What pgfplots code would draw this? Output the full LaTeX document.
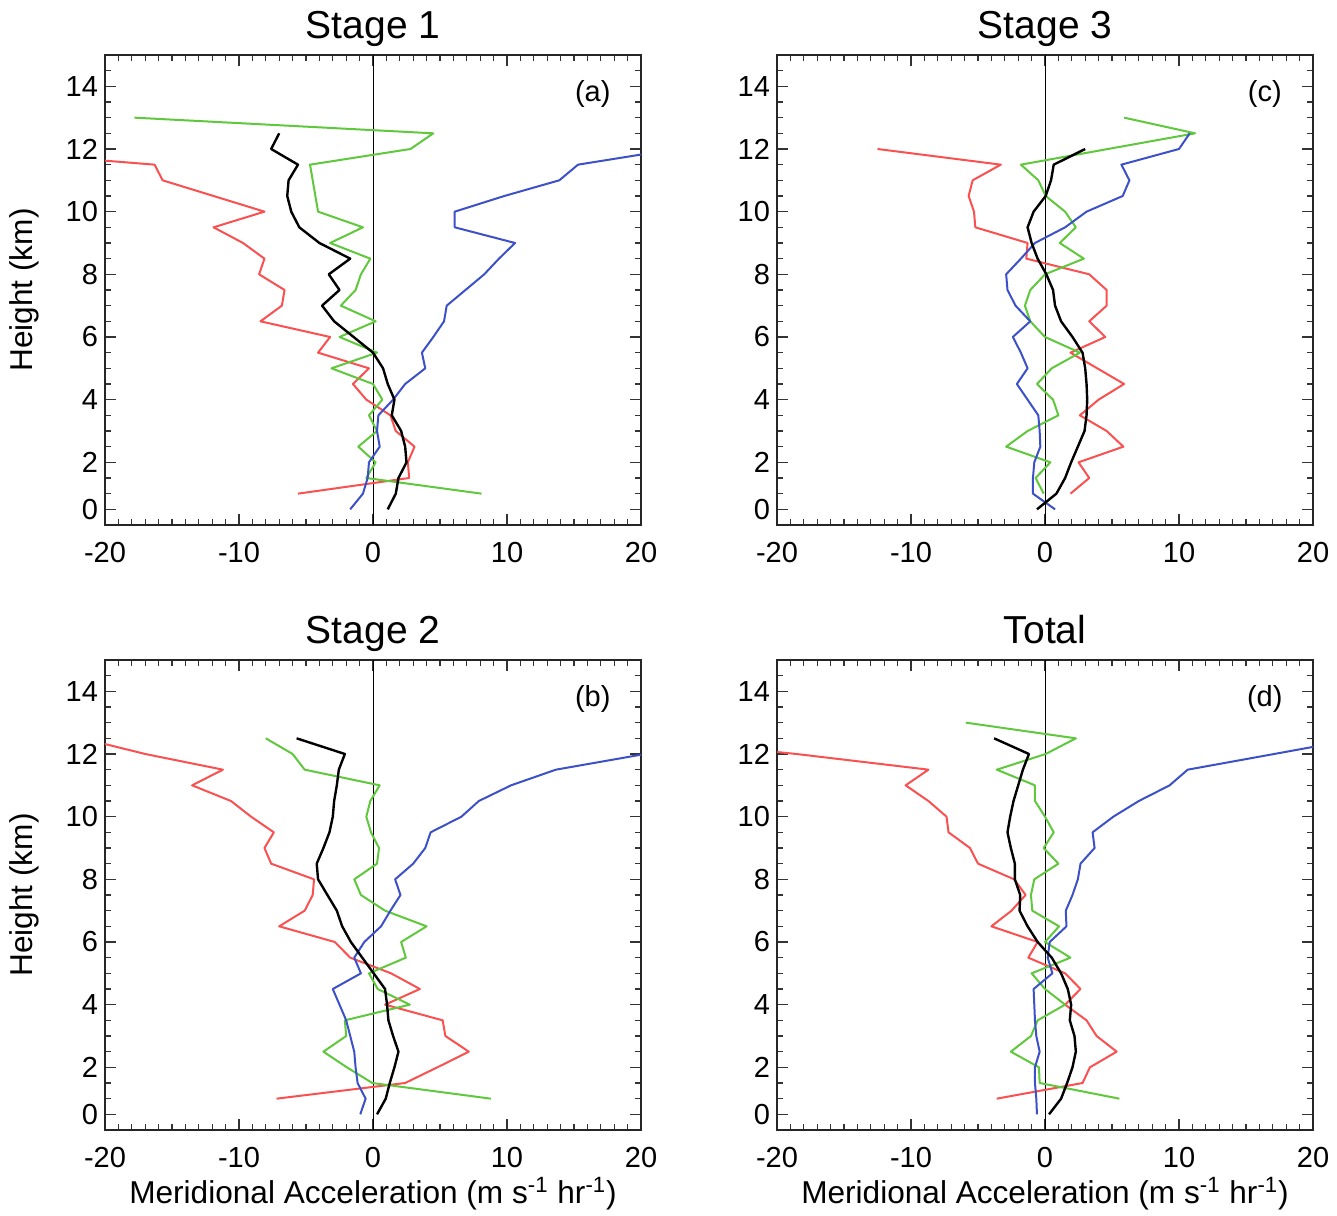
\documentclass[border=0pt]{standalone}
\usepackage{fontspec}
\setmainfont{Liberation Sans}
\usepackage{pgfplots}
\pgfplotsset{compat=1.18}

\definecolor{cred}{RGB}{250,80,80}
\definecolor{cgreen}{RGB}{95,200,60}
\definecolor{cblue}{RGB}{60,80,200}

\pgfplotsset{
  panel/.style={
    scale only axis, width=268pt, height=235pt, anchor=south west,
    xmin=-20, xmax=20, ymin=0, ymax=15,
    clip mode=individual,
    axis line style={line width=0.7pt, black!85},
    every tick/.style={black!80, line width=0.6pt},
    tick align=inside, major tick length=5.5pt, minor tick length=2.8pt,
    xtick={-20,-10,0,10,20}, xticklabels={-20,-10,0,10,20},
    minor xtick={-19,...,19},
    ytick={0.5,2,4,6,8,10,12,14}, yticklabels={\raisebox{-2pt}{0},2,4,6,8,10,12,14},
    minor ytick={0.5,1,...,14.5},
    tick label style={font=\fontsize{14.5}{17}\selectfont},
    xticklabel style={yshift=-5pt},
    label style={font=\fontsize{15.8}{18}\selectfont},
    title style={font=\fontsize{19.5}{22}\selectfont, at={(0.5,1)}, anchor=base, yshift=2pt},
    xlabel style={at={(axis description cs:0.5,-0.135)}, anchor=center},
    ylabel style={at={(axis description cs:-0.151,0.5)}, anchor=center},
  },
  prof/.style={line width=1pt, line join=round},
}

\newcommand{\zeroline}{\addplot[black, line width=0.5pt] coordinates {(0,0) (0,15)};}
\newcommand{\tag}[1]{\node[font=\fontsize{14.5}{17}\selectfont] at (rel axis cs:0.91,0.917) {#1};}

\begin{document}
\begin{tikzpicture}

% ---------------- Stage 1 ----------------
\begin{axis}[panel, at={(52.5pt,345pt)}, title={Stage 1}, ylabel={Height (km)}]
\zeroline
\addplot[prof, cred] coordinates {
(-30.8,12.0) (-16.3,11.5) (-15.7,11.0) (-8.1,10.0) (-11.9,9.5) (-9.7,9.0) (-8.1,8.5)
(-8.5,8.0) (-6.6,7.5) (-6.8,7.0) (-8.4,6.5) (-3.2,6.0) (-4.1,5.5) (-0.3,5.0)
(-1.5,4.5) (-0.5,4.0) (1.3,3.5) (1.7,3.0) (3.1,2.5) (2.6,2.0) (2.7,1.5) (-5.6,1.0)};
\addplot[prof, cgreen] coordinates {
(-17.8,13.0) (4.5,12.5) (2.8,12.0) (-4.7,11.5) (-4.1,10.0) (-0.75,9.5) (-3.2,9.0)
(-0.2,8.5) (-0.9,8.0) (-1.3,7.5) (-2.4,7.0) (0.2,6.5) (-2.5,6.0) (0.3,5.5) (-3.1,5.0)
(0.0,4.5) (0.7,4.0) (-0.3,3.5) (0.3,3.0) (-1.1,2.5) (0.2,2.0) (-0.5,1.5) (8.1,1.0)};
\addplot[prof, cblue] coordinates {
(22.6,12.0) (15.3,11.5) (13.9,11.0) (9.8,10.5) (6.1,10.0) (6.1,9.5) (10.6,9.0)
(9.4,8.5) (8.3,8.0) (6.9,7.5) (5.5,7.0) (5.3,6.5) (4.5,6.0) (3.65,5.5) (3.9,5.0)
(2.4,4.5) (1.5,4.0) (0.4,3.5) (0.3,3.0) (0.5,2.5) (-0.3,2.0) (-0.4,1.5) (-0.75,1.0) (-1.7,0.5)};
\addplot[prof, black, line width=1.2pt] coordinates {
(-7.0,12.5) (-7.6,12.0) (-5.6,11.5) (-6.3,11.0) (-6.4,10.5) (-6.1,10.0) (-5.5,9.5)
(-4.0,9.0) (-1.7,8.5) (-3.3,8.0) (-2.5,7.5) (-3.8,7.0) (-2.9,6.5) (-1.45,6.0) (0.0,5.5)
(0.75,5.0) (1.1,4.5) (1.6,4.0) (1.4,3.5) (2.1,3.0) (2.4,2.5) (2.5,2.0) (1.9,1.5) (1.7,1.0) (1.1,0.5)};
\tag{(a)}
\end{axis}

% ---------------- Stage 3 ----------------
\begin{axis}[panel, at={(388.5pt,345pt)}, title={Stage 3}]
\zeroline
\addplot[prof, cred] coordinates {
(-12.5,12.0) (-3.3,11.5) (-5.4,11.0) (-5.7,10.5) (-5.3,10.0) (-5.2,9.5) (-1.3,9.0)
(-1.4,8.5) (3.3,8.0) (4.6,7.5) (4.6,7.0) (3.3,6.5) (4.5,6.0) (1.9,5.5) (3.9,5.0)
(5.9,4.5) (4.0,4.0) (2.6,3.5) (4.6,3.0) (5.85,2.5) (2.5,2.0) (3.3,1.5) (1.9,1.0)};
\addplot[prof, cgreen] coordinates {
(5.9,13.0) (11.2,12.5) (-1.8,11.5) (-0.5,11.0) (0.05,10.5) (1.5,10.0) (2.3,9.5)
(1.1,9.0) (2.9,8.5) (0.0,8.0) (-1.1,7.5) (-1.5,7.0) (-1.1,6.5) (0.0,6.0) (2.6,5.5)
(0.5,5.0) (-0.6,4.5) (0.6,4.0) (1.0,3.5) (-1.3,3.0) (-2.9,2.5) (0.4,2.0) (-0.7,1.5) (-0.1,1.0)};
\addplot[prof, cblue] coordinates {
(10.8,12.5) (10.0,12.0) (5.7,11.5) (6.3,11.0) (5.8,10.5) (3.1,10.0) (1.5,9.5)
(-0.75,9.0) (-1.8,8.5) (-2.9,8.0) (-2.8,7.5) (-2.2,7.0) (-1.1,6.5) (-2.4,6.0) (-1.8,5.5)
(-1.3,5.0) (-2.1,4.5) (-1.3,4.0) (-0.5,3.5) (-0.4,3.0) (-0.35,2.5) (-0.8,2.0) (-0.9,1.5)
(-0.9,1.0) (0.75,0.5)};
\addplot[prof, black, line width=1.2pt] coordinates {
(3.0,12.0) (0.65,11.5) (0.45,11.0) (0.05,10.5) (-0.85,10.0) (-1.3,9.5) (-1.0,9.0)
(-0.55,8.5) (0.1,8.0) (0.6,7.5) (0.75,7.0) (1.2,6.5) (2.05,6.0) (2.8,5.5) (3.0,5.0)
(3.1,4.5) (3.15,4.0) (3.1,3.5) (2.95,3.0) (2.45,2.5) (1.95,2.0) (1.5,1.5) (0.85,1.0) (-0.6,0.5)};
\tag{(c)}
\end{axis}

% ---------------- Stage 2 ----------------
\begin{axis}[panel, at={(52.5pt,42.5pt)}, title={Stage 2}, ylabel={Height (km)},
  xlabel={Meridional Acceleration (m s\textsuperscript{-1} hr\textsuperscript{-1})}]
\zeroline
\addplot[prof, cred] coordinates {
(-21.7,12.5) (-17.0,12.0) (-11.2,11.5) (-13.5,11.0) (-10.6,10.5) (-9.1,10.0) (-7.4,9.5)
(-8.1,9.0) (-7.6,8.5) (-4.4,8.0) (-4.5,7.5) (-5.1,7.0) (-7.0,6.5) (-2.85,6.0) (-1.7,5.5)
(1.35,5.0) (3.5,4.5) (0.9,4.0) (5.2,3.5) (5.4,3.0) (7.15,2.5) (4.8,2.0) (2.4,1.5) (-7.2,1.0)};
\addplot[prof, cgreen] coordinates {
(-8.0,12.5) (-6.0,12.0) (-5.1,11.5) (0.5,11.0) (-0.2,10.5) (-0.5,10.0) (-0.15,9.5)
(0.45,9.0) (0.3,8.5) (-1.4,8.0) (-0.9,7.5) (0.9,7.0) (4.0,6.5) (2.1,6.0) (2.45,5.5)
(-0.3,5.0) (0.35,4.5) (2.75,4.0) (-2.1,3.5) (-2.0,3.0) (-3.7,2.5) (-1.95,2.0) (-0.05,1.5) (8.8,1.0)};
\addplot[prof, cblue] coordinates {
(20.3,12.0) (13.65,11.5) (10.3,11.0) (7.9,10.5) (6.6,10.0) (4.3,9.5) (3.9,9.0)
(3.0,8.5) (1.65,8.0) (2.05,7.5) (1.3,7.0) (0.6,6.5) (-0.65,6.0) (-1.4,5.5) (-0.9,5.0)
(-3.0,4.5) (-2.5,4.0) (-2.0,3.5) (-1.7,3.0) (-1.4,2.5) (-1.3,2.0) (-1.15,1.5) (-0.55,1.0) (-0.95,0.5)};
\addplot[prof, black, line width=1.2pt] coordinates {
(-5.7,12.5) (-2.1,12.0) (-2.55,11.5) (-2.7,11.0) (-2.9,10.5) (-3.0,10.0) (-3.25,9.5)
(-3.7,9.0) (-4.2,8.5) (-4.1,8.0) (-3.4,7.5) (-2.7,7.0) (-2.3,6.5) (-1.65,6.0) (-0.8,5.5)
(0.05,5.0) (0.9,4.5) (1.05,4.0) (1.15,3.5) (1.5,3.0) (1.9,2.5) (1.6,2.0) (1.25,1.5) (0.95,1.0) (0.3,0.5)};
\tag{(b)}
\end{axis}

% ---------------- Total ----------------
\begin{axis}[panel, at={(388.5pt,42.5pt)}, title={Total},
  xlabel={Meridional Acceleration (m s\textsuperscript{-1} hr\textsuperscript{-1})}]
\zeroline
\addplot[prof, cred] coordinates {
(-30.0,12.5) (-18.55,12.0) (-8.7,11.5) (-10.4,11.0) (-8.7,10.5) (-7.35,10.0) (-7.2,9.5)
(-5.6,9.0) (-5.0,8.5) (-2.3,8.0) (-1.45,7.5) (-2.5,7.0) (-4.0,6.5) (-0.55,6.0) (-1.25,5.5)
(1.5,5.0) (2.65,4.5) (1.5,4.0) (3.1,3.5) (3.85,3.0) (5.35,2.5) (3.35,2.0) (2.8,1.5) (-3.6,1.0)};
\addplot[prof, cgreen] coordinates {
(-5.9,13.0) (2.3,12.5) (0.05,12.0) (-3.6,11.5) (-0.75,11.0) (-0.75,10.5) (0.0,10.0)
(0.65,9.5) (-0.1,9.0) (1.0,8.5) (-0.8,8.0) (-1.05,7.5) (-0.95,7.0) (1.05,6.5) (0.0,6.0)
(1.9,5.5) (-1.0,5.0) (0.0,4.5) (1.5,4.0) (-0.55,3.5) (-1.05,3.0) (-2.55,2.5) (-0.45,2.0)
(-0.4,1.5) (5.55,1.0)};
\addplot[prof, cblue] coordinates {
(23.5,12.5) (17.1,12.0) (10.65,11.5) (9.3,11.0) (7.0,10.5) (5.1,10.0) (3.55,9.5)
(3.7,9.0) (2.65,8.5) (2.45,8.0) (2.05,7.5) (1.55,7.0) (1.6,6.5) (0.35,6.0) (0.2,5.5)
(0.55,5.0) (-0.85,4.5) (-0.8,4.0) (-0.75,3.5) (-0.65,3.0) (-0.4,2.5) (-0.75,2.0)
(-0.75,1.5) (-0.65,1.0) (-0.6,0.5)};
\addplot[prof, black, line width=1.2pt] coordinates {
(-3.8,12.5) (-1.2,12.0) (-1.65,11.5) (-2.0,11.0) (-2.35,10.5) (-2.6,10.0) (-2.8,9.5)
(-2.55,9.0) (-2.25,8.5) (-2.25,8.0) (-1.85,7.5) (-1.9,7.0) (-1.3,6.5) (-0.55,6.0) (0.5,5.5)
(1.2,5.0) (1.7,4.5) (1.95,4.0) (1.85,3.5) (2.2,3.0) (2.3,2.5) (2.05,2.0) (1.65,1.5) (1.2,1.0) (0.3,0.5)};
\tag{(d)}
\end{axis}

\pgfresetboundingbox
\path (0,0) rectangle (668.5pt,607.5pt);
\end{tikzpicture}
\end{document}
